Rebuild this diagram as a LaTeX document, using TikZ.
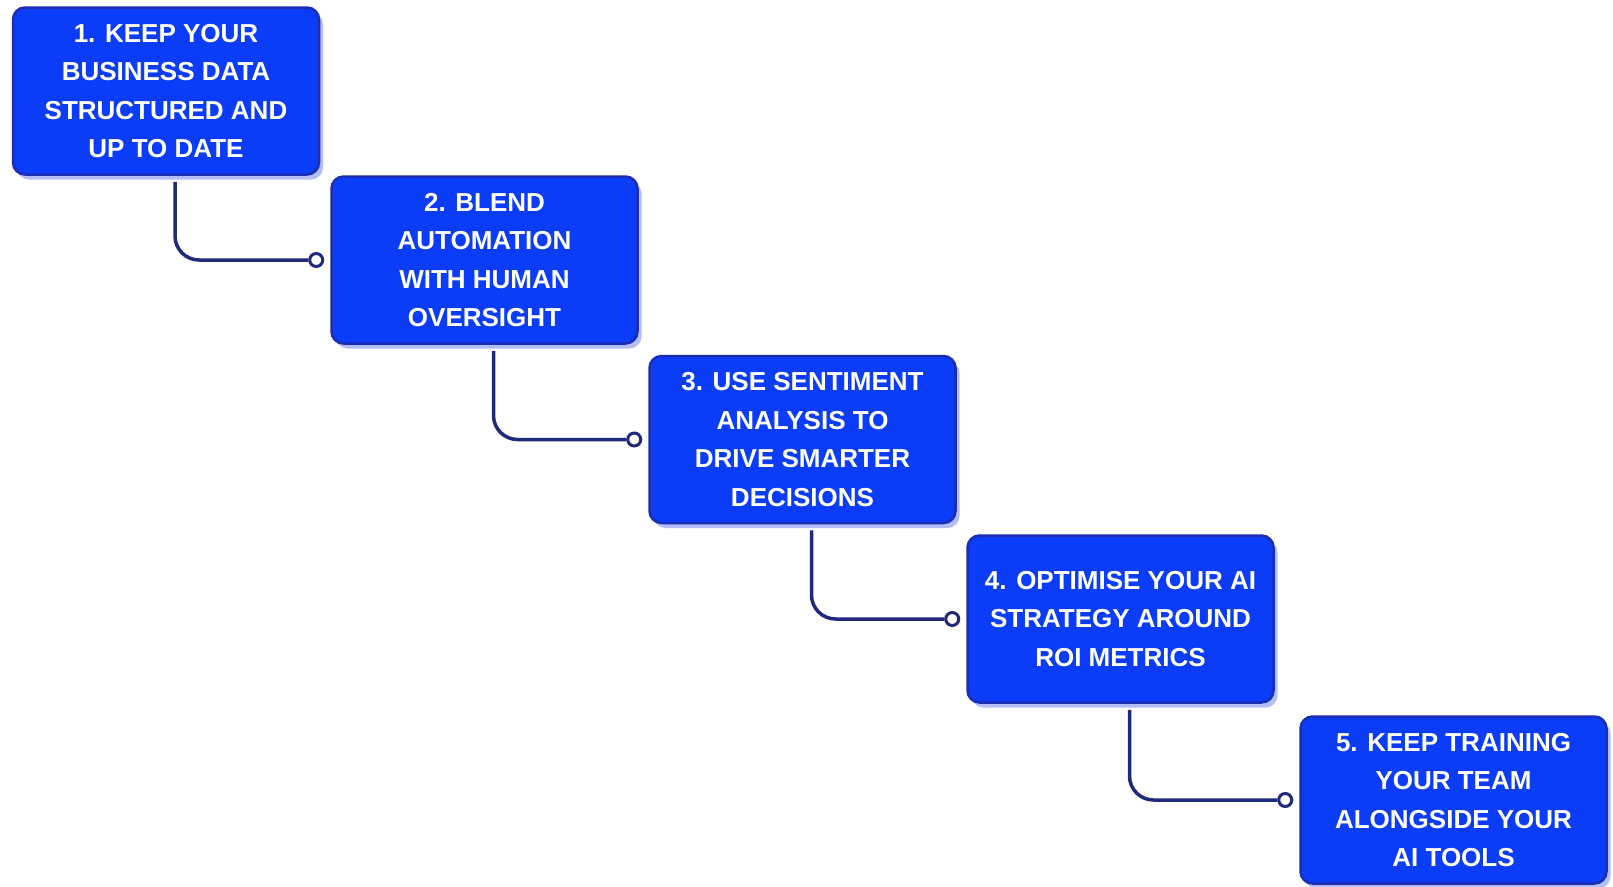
\documentclass[tikz,border=0pt]{standalone}
\usepackage{fontspec}
\setmainfont{Liberation Sans}
\usetikzlibrary{shadows}
\definecolor{boxfill}{HTML}{0B3CF7}
\definecolor{boxline}{HTML}{1A2DB4}
\definecolor{connc}{HTML}{1F2A7A}
\definecolor{shad}{HTML}{B4BEF6}
\begin{document}
\begin{tikzpicture}[x=1pt,y=-1pt,
  box/.style={draw=boxline, line width=2.5pt, fill=boxfill, rounded corners=12pt,
    minimum width=306pt, minimum height=167pt, text=white, align=center,
    font=\fontsize{26}{38.5}\selectfont\bfseries, inner sep=0pt,
    drop shadow={shadow xshift=4pt, shadow yshift=-5pt, fill=shad, opacity=1}},
  conn/.style={draw=connc, line width=3.5pt, rounded corners=24pt},
  dot/.style={circle, draw=connc, line width=3pt, fill=white, minimum size=13pt, inner sep=0pt}]
\useasboundingbox[fill=white] (0,0) rectangle (1613,886);

\node[box] (b1) at (166,91) {1. KEEP YOUR\\BUSINESS DATA\\STRUCTURED AND\\UP TO DATE};
\node[box] (b2) at (484.5,260) {2. BLEND\\AUTOMATION\\WITH HUMAN\\OVERSIGHT};
\node[box] (b3) at (802.5,439.5) {3. USE SENTIMENT\\ANALYSIS TO\\DRIVE SMARTER\\DECISIONS};
\node[box] (b4) at (1120.5,619) {4. OPTIMISE YOUR AI\\STRATEGY AROUND\\ROI METRICS};
\node[box] (b5) at (1453.5,800) {5. KEEP TRAINING\\YOUR TEAM\\ALONGSIDE YOUR\\AI TOOLS};

\node[dot] (d2) at ([xshift=-14pt]b2.west) {};
\node[dot] (d3) at ([xshift=-14pt]b3.west) {};
\node[dot] (d4) at ([xshift=-14pt]b4.west) {};
\node[dot] (d5) at ([xshift=-14pt]b5.west) {};

\draw[conn] ([xshift=9pt,yshift=-6pt]b1.south) |- (d2.west);
\draw[conn] ([xshift=9pt,yshift=-6pt]b2.south) |- (d3.west);
\draw[conn] ([xshift=9pt,yshift=-6pt]b3.south) |- (d4.west);
\draw[conn] ([xshift=9pt,yshift=-6pt]b4.south) |- (d5.west);
\end{tikzpicture}
\end{document}
